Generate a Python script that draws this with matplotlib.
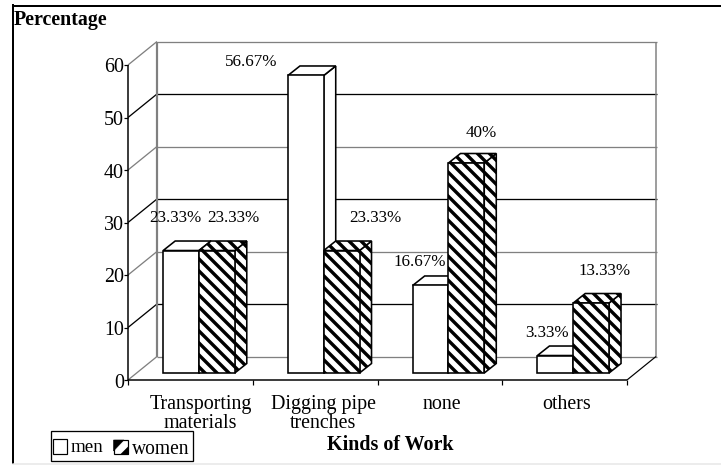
import matplotlib
matplotlib.use("Agg")
import matplotlib.pyplot as plt
from matplotlib.lines import Line2D
from matplotlib.patches import Polygon, Rectangle

plt.rcParams['font.family'] = ['Liberation Serif', 'DejaVu Serif']
plt.rcParams['hatch.linewidth'] = 3.4

categories = ["Transporting\nmaterials", "Digging pipe\ntrenches", "none", "others"]
men = [23.33, 56.67, 16.67, 3.33]
women = [23.33, 23.33, 40, 13.33]
men_labels = ["23.33%", "56.67%", "16.67%", "3.33%"]
women_labels = ["23.33%", "23.33%", "40%", "13.33%"]
y_ticks = [0, 10, 20, 30, 40, 50, 60]

# label nudges in pixels from the top of each bar
men_nudge = [(-6, 33), (-55, 13), (-11, 23), (-8, 23)]
women_nudge = [(17, 33), (34, 33), (15, 30), (13, 32)]
cat_nudge = [10, 8, 2, 2]

W, H = 721, 465
fig = plt.figure(figsize=(W / 72, H / 72), dpi=72)

# axes is the front plane of the 3D box
left, right, top, bottom = 128, 627, 65, 380
ax = fig.add_axes([left / W, 1 - bottom / H, (right - left) / W, (bottom - top) / H])
ax.set_xlim(0, 4)
ax.set_ylim(0, 60)
ax.axis("off")

px_x = (right - left) / 4
px_y = (bottom - top) / 60


def line(xs, ys, color="black", lw=1.3, z=1):
    ax.add_line(Line2D(xs, ys, color=color, lw=lw, zorder=z, clip_on=False,
                       solid_capstyle="butt"))


# box walls
wall_dx = 29 / px_x
wall_dy = 23.5 / px_y
grid_colors = ["#808080", "black", "#808080", "black", "#808080", "black", "#808080"]
for t, c in zip(y_ticks, grid_colors):
    line([0, wall_dx], [t, t + wall_dy], c)
    line([wall_dx, 4 + wall_dx + 0.01], [t + wall_dy, t + wall_dy], c)
line([wall_dx, wall_dx], [wall_dy, 60 + wall_dy], "#808080", 2.2)
line([4 + wall_dx, 4 + wall_dx], [wall_dy, 60 + wall_dy], "#808080", 1.5)
line([4, 4 + wall_dx], [0, wall_dy], "black", 1.2)

# axes lines and ticks
line([0, 0], [0, 60], "black", 1.5, 2)
line([0, 4], [0, 0], "black", 1.5, 2)
tick_x = 4 / px_x
tick_y = 5 / px_y
for t in y_ticks:
    line([-tick_x, 0], [t, t], "black", 1.2, 2)
    ax.annotate(str(t), (0, t), xytext=(-4, -3), textcoords="offset points",
                ha="right", va="center", fontsize=20, annotation_clip=False)
for i in range(5):
    line([i, i], [0, -tick_y], "black", 1.2, 2)
for i, name in enumerate(categories):
    ax.annotate(name, (i + 0.5, 0), xytext=(cat_nudge[i], -15), textcoords="offset points",
                ha="center", va="top", fontsize=20, linespacing=1.0,
                annotation_clip=False)

# bars
shift = 8.6 / px_x
base = 7 / px_y
bar_w = 35.8 / px_x
d_x = 12 / px_x
d_y = 9.5 / px_y


def bar3d(x, value, hatch, z):
    ax.bar(x, value, bar_w, bottom=base, facecolor="white", edgecolor="black",
           hatch=hatch, linewidth=1.6, zorder=z + 0.2, clip_on=False)
    x0, x1 = x - bar_w / 2, x + bar_w / 2
    y1 = base + value
    side = [(x1, base), (x1 + d_x, base + d_y), (x1 + d_x, y1 + d_y), (x1, y1)]
    roof = [(x0, y1), (x0 + d_x, y1 + d_y), (x1 + d_x, y1 + d_y), (x1, y1)]
    for pts in (side, roof):
        ax.add_patch(Polygon(pts, facecolor="white", edgecolor="black", hatch=hatch,
                             linewidth=1.6, zorder=z, clip_on=False))


for i in range(len(categories)):
    xm = i + shift + 0.5 - bar_w / 2
    xw = i + shift + 0.5 + bar_w / 2
    bar3d(xm, men[i], None, 3 + i * 2)
    bar3d(xw, women[i], "\\\\", 4 + i * 2)
    ax.annotate(men_labels[i], (xm, base + men[i]), xytext=men_nudge[i],
                textcoords="offset points", ha="center", va="center", fontsize=17,
                zorder=20, annotation_clip=False)
    ax.annotate(women_labels[i], (xw, base + women[i]), xytext=women_nudge[i],
                textcoords="offset points", ha="center", va="center", fontsize=17,
                zorder=20, annotation_clip=False)


def fx(px):
    return px / W


def fy(py):
    return 1 - py / H


# chart frame
fig.add_artist(Line2D([fx(13.5), fx(13.5)], [fy(5), fy(463)], color="black", lw=2))
fig.add_artist(Line2D([fx(13), 1], [fy(5.5), fy(5.5)], color="black", lw=2))
fig.add_artist(Line2D([fx(13), 1], [fy(464), fy(464)], color="#e6e6e6", lw=1.5))

fig.text(fx(14), fy(19.5), "Percentage", fontsize=20, fontweight="bold", ha="left", va="center")
fig.text(fx(390.5), fy(445.5), "Kinds of Work", fontsize=20, fontweight="bold", ha="center", va="center")

# legend
fig.add_artist(Rectangle((fx(50.5), fy(461)), 142 / W, 30 / H, transform=fig.transFigure,
                         facecolor="white", edgecolor="black", lw=1.3))
fig.add_artist(Rectangle((fx(52.5), fy(454)), 14.5 / W, 15.5 / H, transform=fig.transFigure,
                         facecolor="white", edgecolor="black", lw=1.2))
fig.add_artist(Rectangle((fx(113.5), fy(454)), 14 / W, 14 / H, transform=fig.transFigure,
                         facecolor="white", edgecolor="black", lw=1.2))
fig.add_artist(Polygon([(fx(113.5), fy(440)), (fx(124), fy(440)), (fx(113.5), fy(451))],
                       transform=fig.transFigure, facecolor="black", edgecolor="black", lw=0.5))
fig.add_artist(Polygon([(fx(127.5), fy(446)), (fx(127.5), fy(454)), (fx(120), fy(454))],
                       transform=fig.transFigure, facecolor="black", edgecolor="black", lw=0.5))
fig.text(fx(71), fy(447), "men", fontsize=19, ha="left", va="center")
fig.text(fx(131.5), fy(449), "women", fontsize=19.5, ha="left", va="center")

fig.savefig("out.png", dpi=72)
